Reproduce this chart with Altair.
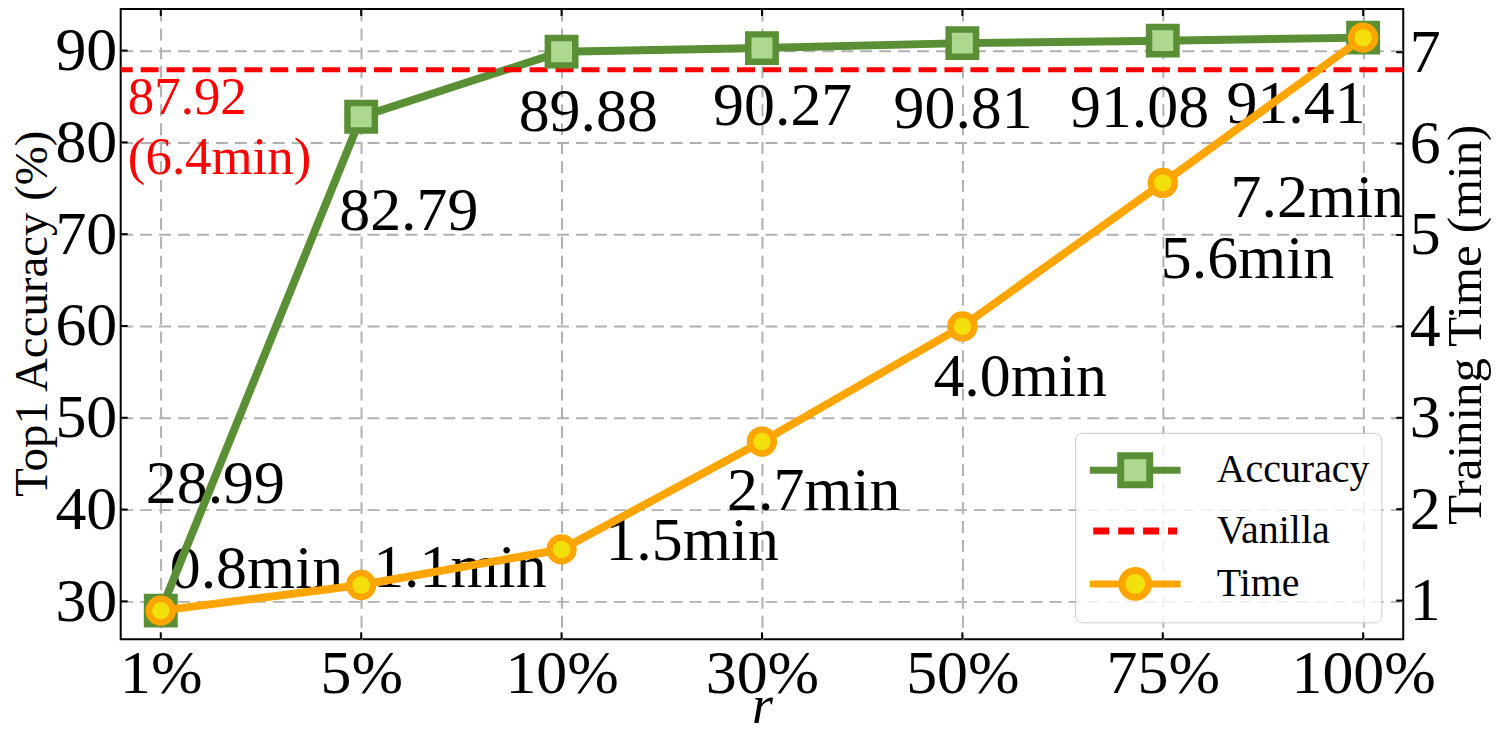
import altair as alt
import pandas as pd

# ---------------- data ----------------
categories = ["1%", "5%", "10%", "30%", "50%", "75%", "100%"]
accuracy = [28.99, 82.79, 89.88, 90.27, 90.81, 91.08, 91.41]
acc_labels = ["28.99", "82.79", "89.88", "90.27", "90.81", "91.08", "91.41"]
train_time = [0.89, 1.17, 1.56, 2.74, 4.00, 5.57, 7.16]
time_labels = ["0.8min", "1.1min", "1.5min", "2.7min", "4.0min", "5.6min", "7.2min"]
vanilla_acc = 87.92
vanilla_time = 6.4
series = ["Accuracy", "Vanilla", "Time"]
acc_ticks = [30, 40, 50, 60, 70, 80, 90]
time_ticks = [1, 2, 3, 4, 5, 6, 7]

# label offsets in pixels from their point (dx right, dy down) to text left/baseline
acc_dx = [-15, -22, -43, -49, -69, -93, -137]
acc_dy = [-108, 114, 80, 77, 85, 87, 86]
time_dx = [9, 12, 44, -35, -29, -2, -133]
time_dy = [-23, 2, 11, 69, 70, 95, 180]
vanilla_dx, vanilla_dy = -33, 44

# ---------------- layout ----------------
W, H = 1286, 632
FONT = "Liberation Serif"
GREEN, LGREEN = "#5a8f35", "#aed890"
ORANGE, YELLOW = "#ffa500", "#f2e00c"
RED = "#ff0000"
GRID = "#b0b0b0"

n = len(categories)
x_lo, x_hi = -0.2, n - 1 + 0.2
a_rng = max(accuracy) - min(accuracy)
a_lo, a_hi = min(accuracy) - 0.05 * a_rng, max(accuracy) + 0.05 * a_rng
t_rng = max(train_time) - min(train_time)
t_lo, t_hi = min(train_time) - 0.05 * t_rng, max(train_time) + 0.05 * t_rng

xs = W / (x_hi - x_lo)
ays = H / (a_hi - a_lo)
tys = H / (t_hi - t_lo)

idx = list(range(n))
df = pd.DataFrame({
    "idx": idx,
    "cat": categories,
    "acc": accuracy,
    "time": train_time,
    "acc_lab": acc_labels,
    "time_lab": time_labels,
    "acc_lx": [i + d / xs for i, d in zip(idx, acc_dx)],
    "acc_ly": [v - d / ays for v, d in zip(accuracy, acc_dy)],
    "time_lx": [i + d / xs for i, d in zip(idx, time_dx)],
    "time_ly": [v - d / tys for v, d in zip(train_time, time_dy)],
})
van_df = pd.DataFrame({
    "v": [vanilla_acc],
    "lx": [0 + vanilla_dx / xs],
    "ly": [vanilla_acc - vanilla_dy / ays],
    "lab": [f"{vanilla_acc}\n({vanilla_time}min)"],
})
acc_tick_df = pd.DataFrame({"v": acc_ticks})
time_tick_df = pd.DataFrame({"v": time_ticks})
x_tick_df = pd.DataFrame({"idx": idx})
legend_df = pd.DataFrame({"series": series})

xscale = alt.Scale(domain=[x_lo, x_hi], nice=False, zero=False)
ascale = alt.Scale(domain=[a_lo, a_hi], nice=False, zero=False)
tscale = alt.Scale(domain=[t_lo, t_hi], nice=False, zero=False)

label_expr = "[" + ",".join("'" + c + "'" for c in categories) + "][datum.value]"
x_axis = alt.Axis(values=idx, labelExpr=label_expr, title="r", grid=True,
                  gridColor=GRID, gridDash=[12, 7], gridWidth=2,
                  ticks=False, domain=False, labelFontSize=62, labelPadding=4,
                  titleFontSize=54, titleFontStyle="italic", titleY=83,
                  titleBaseline="alphabetic")
acc_axis = alt.Axis(orient="left", values=acc_ticks, grid=True,
                    gridColor=GRID, gridDash=[12, 7], gridWidth=2,
                    ticks=False, domain=False, labelFontSize=62, labelPadding=4,
                    title="Top1 Accuracy (%)", titleFontSize=47, titleAngle=270,
                    titleX=-74, titleY=305, titleBaseline="alphabetic")
time_axis = alt.Axis(orient="right", values=time_ticks, grid=False, ticks=False,
                     domain=False, labelFontSize=62, labelPadding=6,
                     title="Training Time (min)", titleFontSize=49, titleAngle=270,
                     titleX=77, titleY=316, titleBaseline="alphabetic")


def X(field):
    return alt.X(f"{field}:Q", scale=xscale, axis=x_axis)


def YA(field):
    return alt.Y(f"{field}:Q", scale=ascale, axis=acc_axis)


def YT(field):
    return alt.Y(f"{field}:Q", scale=tscale, axis=time_axis)


# ---------------- text layers (drawn beneath the lines) ----------------
acc_text = alt.Chart(df).mark_text(
    align="left", baseline="alphabetic", font=FONT, fontSize=62, color="black"
).encode(x=X("acc_lx"), y=alt.Y("acc_ly:Q", scale=ascale, axis=None), text="acc_lab:N")

van_text = alt.Chart(van_df).mark_text(
    align="left", baseline="alphabetic", font=FONT, fontSize=53, color=RED,
    lineBreak="\n", lineHeight=61
).encode(x=X("lx"), y=alt.Y("ly:Q", scale=ascale, axis=None), text="lab:N")

time_text = alt.Chart(df).mark_text(
    align="left", baseline="alphabetic", font=FONT, fontSize=62, color="black"
).encode(x=X("time_lx"), y=alt.Y("time_ly:Q", scale=tscale, axis=None), text="time_lab:N")

# ---------------- accuracy layer ----------------
acc_line = alt.Chart(df).mark_line(color=GREEN, strokeWidth=8).encode(x=X("idx"), y=YA("acc"))
acc_pts = alt.Chart(df).mark_point(
    shape="square", filled=True, fill=LGREEN, stroke=GREEN, strokeWidth=6.5,
    size=756, opacity=1
).encode(x=X("idx"), y=YA("acc"))

van_rule = alt.Chart(van_df).mark_rule(color=RED, strokeWidth=5, strokeDash=[18, 8]).encode(
    y=YA("v"))

left_ticks = alt.Chart(acc_tick_df).mark_rule(color="black", strokeWidth=2).encode(
    x=alt.value(0), x2=alt.value(7), y=YA("v"))
bottom_ticks = alt.Chart(x_tick_df).mark_rule(color="black", strokeWidth=2).encode(
    x=X("idx"), y=alt.value(H), y2=alt.value(H - 7))
top_ticks = alt.Chart(x_tick_df).mark_rule(color="black", strokeWidth=2).encode(
    x=X("idx"), y=alt.value(0), y2=alt.value(7))

acc_main = alt.layer(acc_line, van_rule, acc_pts, left_ticks, bottom_ticks, top_ticks)

# ---------------- time layer ----------------
time_line = alt.Chart(df).mark_line(color=ORANGE, strokeWidth=8).encode(x=X("idx"), y=YT("time"))
time_pts = alt.Chart(df).mark_point(
    shape="circle", filled=True, fill=YELLOW, stroke=ORANGE, strokeWidth=6.5,
    size=572, opacity=1
).encode(x=X("idx"), y=YT("time"))

right_ticks = alt.Chart(time_tick_df).mark_rule(color="black", strokeWidth=2).encode(
    x=alt.value(W - 7), x2=alt.value(W), y=YT("v"))

# legend (symbols: line + marker, drawn from custom paths)
p_acc = "M-1,0H0.36M1.64,0H3M0.36,-0.64H1.64V0.64H0.36Z"
p_van = "M-0.85,0H2.85"
p_time = "M-1,0H0.41M1.59,0H3M0.41,0A0.59,0.59 0 1,1 1.59,0A0.59,0.59 0 1,1 0.41,0Z"
leg = alt.Legend(title=None, orient="none", legendX=957, legendY=425, direction="vertical")
legend_layer = alt.Chart(legend_df).mark_point(
    filled=True, opacity=1, size=2070, strokeWidth=7
).encode(
    shape=alt.Shape("series:N", scale=alt.Scale(domain=series, range=[p_acc, p_van, p_time]), legend=leg),
    fill=alt.Fill("series:N", scale=alt.Scale(domain=series, range=[LGREEN, "transparent", YELLOW]), legend=leg),
    stroke=alt.Stroke("series:N", scale=alt.Scale(domain=series, range=[GREEN, RED, ORANGE]), legend=leg),
    strokeDash=alt.StrokeDash("series:N", scale=alt.Scale(domain=series, range=[[1, 0], [16, 9], [1, 0]]), legend=leg),
).transform_filter("false")

time_main = alt.layer(time_line, time_pts, right_ticks, legend_layer)

chart = alt.layer(acc_text, van_text, time_text, acc_main, time_main).resolve_scale(
    y="independent"
).properties(
    width=W, height=H,
    autosize=alt.AutoSizeParams(type="none"),
    padding={"left": 113, "top": 0, "right": 88, "bottom": 94},
).configure_view(
    stroke="black", strokeWidth=2
).configure_axis(
    labelFont=FONT, titleFont=FONT, labelColor="black", titleColor="black",
    titleFontWeight="normal",
).configure_legend(
    labelFont=FONT, labelFontSize=40, labelColor="black", labelOffset=78,
    rowPadding=5, padding=11, fillColor="rgba(255,255,255,0.8)",
    strokeColor="#cccccc", cornerRadius=7, symbolSize=2070, symbolStrokeWidth=7,
    labelBaseline="middle",
)

chart.save("out.html", embed_options={"renderer": "svg", "actions": False})
